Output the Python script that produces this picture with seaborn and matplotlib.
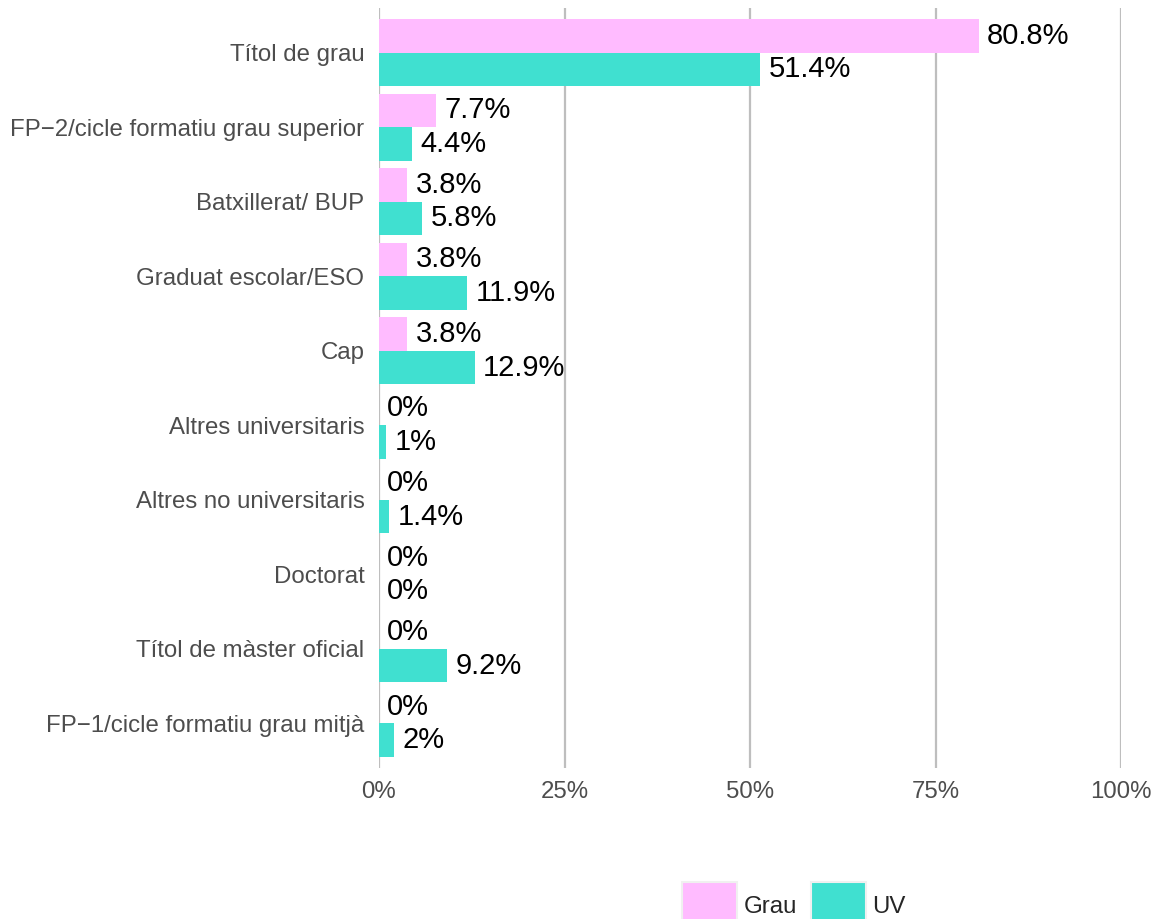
import matplotlib
matplotlib.use("Agg")
import matplotlib.pyplot as plt
import seaborn as sns
import pandas as pd
from matplotlib.patches import Patch

categories = ["Títol de grau", "FP\u22122/cicle formatiu grau superior", "Batxillerat/ BUP",
              "Graduat escolar/ESO", "Cap", "Altres universitaris", "Altres no universitaris",
              "Doctorat", "Títol de màster oficial", "FP\u22121/cicle formatiu grau mitjà"]
grau = [80.8, 7.7, 3.8, 3.8, 3.8, 0, 0, 0, 0, 0]
uv = [51.4, 4.4, 5.8, 11.9, 12.9, 1, 1.4, 0, 9.2, 2]
groups = ["Grau", "UV"]
colors = {"Grau": "#FFBBFF", "UV": "#40E0D0"}
xticks = [0, 25, 50, 75, 100]

df = pd.DataFrame({
    "cat": categories * 2,
    "grp": ["Grau"] * len(categories) + ["UV"] * len(categories),
    "val": grau + uv,
})

sns.set_style("white")
plt.rcParams["font.family"] = ["Liberation Sans", "DejaVu Sans"]

W, H = 1158, 919
fig = plt.figure(figsize=(W / 100, H / 100), dpi=100)
ax = fig.add_axes([379 / W, 1 - 768 / H, (1121 - 379) / W, (768 - 8) / H])

sns.barplot(data=df, y="cat", x="val", hue="grp", order=categories, hue_order=groups,
            palette=colors, orient="h", width=0.9, gap=0, ax=ax, legend=False,
            saturation=1, linewidth=0, errorbar=None)

ax.set_xlim(0, 100)
ax.set_ylim(len(categories) - 0.4, -0.6)
ax.set_xticks(xticks)
ax.set_xticklabels([f"{t}%" for t in xticks])
ax.set_xlabel("")
ax.set_ylabel("")
for s in ax.spines.values():
    s.set_visible(False)
ax.grid(False)
ax.set_axisbelow(True)
for t in xticks:
    ax.axvline(t, color="#BEBEBE", lw=1.6, zorder=0)
ax.tick_params(axis="both", length=0, labelsize=17.3, labelcolor="#4D4D4D")
ax.tick_params(axis="y", pad=10.5)
ax.tick_params(axis="x", pad=9.5)

for container, g in zip(ax.containers, groups):
    vals = grau if g == "Grau" else uv
    for rect, v in zip(container, vals):
        y = rect.get_y() + rect.get_height() / 2
        ax.annotate(f"{v:g}%", (rect.get_width(), y), xytext=(6, 0), textcoords="offset points",
                    ha="left", va="center", fontsize=21, color="black", annotation_clip=False)

handles = [Patch(facecolor=colors[g], edgecolor="#F0F0F0", linewidth=1.5, label=g) for g in groups]
fig.legend(handles=handles, loc="upper center", bbox_to_anchor=(794 / W, 1 - 882 / H),
           ncol=2, frameon=False, fontsize=17.3, handlelength=2.3, handleheight=2.6,
           handletextpad=0.25, columnspacing=0.6, borderpad=0, borderaxespad=0)

fig.savefig("out.png", dpi=100)
